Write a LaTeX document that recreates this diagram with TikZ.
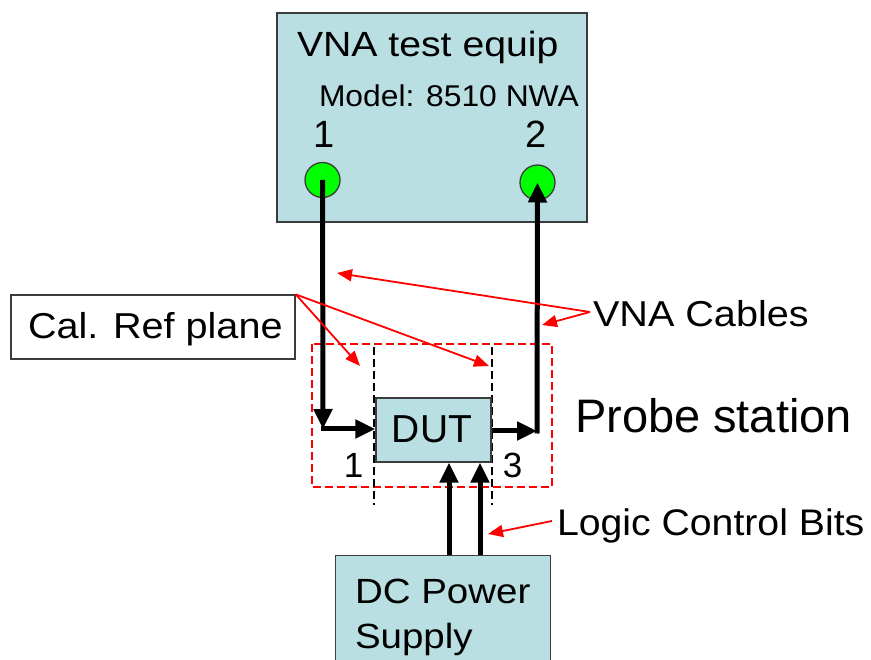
\documentclass[tikz,border=0pt]{standalone}
\usepackage{fontspec}
\setmainfont{Liberation Sans}
\usetikzlibrary{arrows.meta}
\definecolor{boxblue}{RGB}{185,223,226}
\definecolor{boxedge}{RGB}{60,60,60}
\definecolor{portgreen}{RGB}{0,255,0}
\newcommand{\fs}[2]{\fontsize{#1}{#2}\selectfont}
\newcommand{\st}[1]{\addfontfeature{FakeStretch=#1}}
\tikzset{
  bluebox/.style={draw=boxedge, line width=1.3pt, fill=boxblue, inner sep=0pt},
  whitebox/.style={draw=boxedge, line width=1.3pt, fill=white, inner sep=0pt},
  port/.style={circle, draw=boxedge, line width=1.3pt, fill=portgreen, minimum size=35pt, inner sep=0pt},
  txt/.style={inner sep=0pt, outer sep=0pt},
  cable/.style={line width=5pt, -{Triangle[length=20pt,width=18pt]}},
  redarrow/.style={red, line width=1.8pt, -{Triangle[length=15pt,width=12pt]}},
  refline/.style={black, line width=1.5pt, dash pattern=on 8pt off 4pt},
  probebox/.style={red, line width=2pt, dash pattern=on 8pt off 4pt}
}
\begin{document}
\begin{tikzpicture}[x=1pt,y=-1pt]
\useasboundingbox (0,0) rectangle (871,660);
% VNA box
\node[bluebox, minimum width=310pt, minimum height=209pt] (vna) at (432,117.5) {};
\node[txt, anchor=base west] (vnat) at (297,57) {\fs{35}{42}\st{1.12}VNA test equip};
\node[txt, anchor=base west] (model) at (319,107) {\fs{30}{36}\st{1.06}Model: 8510 NWA};
\node[txt, anchor=base] (n1) at (324,148) {\fs{38}{44}1};
\node[txt, anchor=base] (n2) at (536,148) {\fs{38}{44}2};
\node[port] (p1) at (322.5,180) {};
\node[port] (p2) at (537.5,182.5) {};
% probe station area
\draw[probebox] (312,344) rectangle (552,487);
\draw[refline] (374,347) -- (374,505);
\draw[refline] (492,347) -- (492,505);
% DUT
\node[bluebox, minimum width=115pt, minimum height=64pt] (dut) at (433.5,430) {};
\node[txt, anchor=base] (dutt) at (432,443) {\fs{39}{46}DUT};
\node[txt, anchor=base] (m1) at (353.5,478) {\fs{35}{42}1};
\node[txt, anchor=base] (m3) at (512.5,478) {\fs{35}{42}3};
% DC box
\node[bluebox, minimum width=215pt, minimum height=110pt, anchor=north west] (dc) at (335,555) {};
\node[txt, anchor=base west] (dc1) at (355,603) {\fs{35}{40}\st{1.1}DC Power};
\node[txt, anchor=base west] (dc2) at (355,648) {\fs{35}{40}\st{1.1}Supply};
% Cal box
\node[whitebox, minimum width=284pt, minimum height=64pt] (cal) at (153,327) {};
\node[txt, anchor=base west] (calt) at (28,339) {\fs{36}{42}\st{1.1}Cal. Ref plane};
% labels
\node[txt, anchor=base west] (vnac) at (593,327) {\fs{36}{42}\st{1.1}VNA Cables};
\node[txt, anchor=base west] (probe) at (575,433) {\fs{47}{56}Probe station};
\node[txt, anchor=base west] (logic) at (557,535) {\fs{37}{44}\st{1.06}Logic Control Bits};
% cables
\coordinate (c1) at (323,429);
\coordinate (c2) at (537,431);
\draw[cable] (p1.center) -- (c1);
\draw[cable, line cap=rect] (c1) -- (c1 -| dut.west);
\draw[cable] (dut.east |- c2) -- (c2);
\draw[cable, line cap=rect] (c2) -- (p2.center);
\coordinate (d1) at (449,555);
\coordinate (d2) at (480,555);
\draw[cable] (d1) -- (d1 |- dut.south);
\draw[cable] (d2) -- (d2 |- dut.south);
% red annotation arrows
\coordinate (ra) at (360,366);
\coordinate (rb) at (489,366);
\draw[redarrow] (cal.north east) -- (ra);
\draw[redarrow] (cal.north east) -- (rb);
\coordinate (vo) at (590,312);
\coordinate (va) at (337,273);
\coordinate (vb) at (542,325);
\draw[redarrow] (vo) -- (va);
\draw[redarrow] (vo) -- (vb);
\coordinate (lo) at (552,521);
\coordinate (la) at (488,534);
\draw[redarrow] (lo) -- (la);
\end{tikzpicture}
\end{document}
